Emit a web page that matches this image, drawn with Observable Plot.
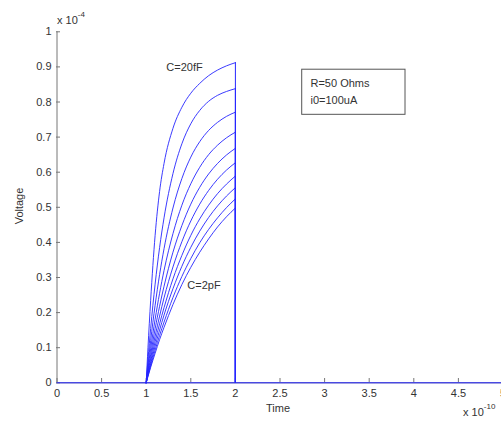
<!DOCTYPE html>
<html>
<head>
<meta charset="utf-8">
<script src="https://cdn.jsdelivr.net/npm/d3@7"></script>
<script src="https://cdn.jsdelivr.net/npm/@observablehq/plot@0.6"></script>
<style>
  html, body { margin: 0; padding: 0; background: #fff; }
  #chart { width: 501px; height: 425px; overflow: hidden; }
  svg { font-family: "Liberation Sans", Arial, sans-serif; }
</style>
</head>
<body>
<div id="chart"></div>
<script>
// Time samples (x 1e-10 s) for the charging phase
const tGrid = [1, 1.02, 1.05, 1.1, 1.15, 1.2, 1.3, 1.4, 1.5, 1.6, 1.7, 1.8, 1.9, 2.0];
// Voltage (x 1e-4 V) of each curve, top (C=20fF) to bottom (C=2pF)
const v1  = [0, 0.100, 0.235, 0.420, 0.545, 0.625, 0.725, 0.785, 0.825, 0.853, 0.875, 0.891, 0.903, 0.912];
const v2  = [0, 0.066, 0.155, 0.281, 0.385, 0.470, 0.596, 0.681, 0.738, 0.776, 0.802, 0.819, 0.830, 0.838];
const v3  = [0, 0.050, 0.120, 0.221, 0.308, 0.382, 0.498, 0.582, 0.643, 0.687, 0.719, 0.742, 0.759, 0.771];
const v4  = [0, 0.040, 0.097, 0.181, 0.255, 0.320, 0.425, 0.506, 0.567, 0.614, 0.650, 0.677, 0.698, 0.714];
const v5  = [0, 0.034, 0.081, 0.154, 0.218, 0.275, 0.372, 0.448, 0.509, 0.557, 0.595, 0.625, 0.649, 0.668];
const v6  = [0, 0.029, 0.070, 0.133, 0.190, 0.242, 0.330, 0.402, 0.461, 0.509, 0.548, 0.580, 0.606, 0.627];
const v7  = [0, 0.025, 0.061, 0.117, 0.168, 0.214, 0.296, 0.363, 0.420, 0.467, 0.506, 0.539, 0.566, 0.589];
const v8  = [0, 0.022, 0.054, 0.104, 0.150, 0.193, 0.268, 0.332, 0.386, 0.432, 0.471, 0.504, 0.532, 0.556];
const v9  = [0, 0.020, 0.048, 0.093, 0.135, 0.173, 0.243, 0.303, 0.354, 0.399, 0.437, 0.470, 0.499, 0.524];
const v10 = [0, 0.018, 0.044, 0.084, 0.123, 0.158, 0.223, 0.280, 0.329, 0.372, 0.410, 0.444, 0.473, 0.498];
const seriesValues = [v1, v2, v3, v4, v5, v6, v7, v8, v9, v10];
const seriesNames = ["C1", "C2", "C3", "C4", "C5", "C6", "C7", "C8", "C9", "C10"];

// Baseline (voltage is zero outside the pulse)
const baseT = [0, 5];
const baseV = [0, 0];

const xTicks = [0, 0.5, 1, 1.5, 2, 2.5, 3, 3.5, 4, 4.5, 5];
const yTicks = [0, 0.1, 0.2, 0.3, 0.4, 0.5, 0.6, 0.7, 0.8, 0.9, 1];

const curveLabels = [
  {t: 1.43, v: 0.897, text: "C=20fF"},
  {t: 1.648, v: 0.277, text: "C=2pF"}
];
const boxRect = [{x1: 2.749, x2: 3.907, y1: 0.7635, y2: 0.892}];
const boxLines = [
  {t: 2.842, v: 0.853, text: "R=50 Ohms"},
  {t: 2.842, v: 0.804, text: "i0=100uA"}
];

const curveRows = [];
seriesValues.forEach((vals, i) => {
  vals.forEach((v, j) => curveRows.push({series: seriesNames[i], t: tGrid[j], v}));
});
const endRows = seriesValues.map((vals, i) => ({series: seriesNames[i], t: tGrid[tGrid.length - 1], v: vals[vals.length - 1]}));
const baseRows = baseT.map((t, i) => ({t, v: baseV[i]}));

const blue = "#2525ff";
const axisGray = "#777";
const textCol = "#333";

const plot = Plot.plot({
  width: 501,
  height: 425,
  marginLeft: 56,
  marginRight: 0,
  marginTop: 31,
  marginBottom: 43,
  style: {fontFamily: "'Liberation Sans', Arial, sans-serif", fontSize: "11px", background: "#fff", overflow: "visible"},
  x: {domain: [0, 5], range: [56.5, 502.5]},
  y: {domain: [0, 1], range: [382.3, 31.3]},
  marks: [
    Plot.ruleX([0], {y1: 0, y2: 1, stroke: axisGray, strokeWidth: 1}),
    Plot.ruleY([0], {stroke: axisGray, strokeWidth: 1}),
    Plot.axisX(xTicks, {tickSize: -4, tickPadding: 11, stroke: axisGray, color: textCol, label: null, tickFormat: d => String(d)}),
    Plot.axisY(yTicks, {tickSize: -4, tickPadding: 9, stroke: axisGray, color: textCol, label: null, tickFormat: d => String(d)}),
    Plot.line(baseRows, {x: "t", y: "v", stroke: blue, strokeWidth: 1}),
    Plot.line(curveRows, {x: "t", y: "v", z: "series", stroke: blue, strokeWidth: 0.9, curve: "monotone-x"}),
    Plot.ruleX(endRows, {x: "t", y1: 0, y2: "v", stroke: blue, strokeWidth: 1}),
    Plot.text(curveLabels, {x: "t", y: "v", text: "text", fill: textCol, fontSize: 11}),
    Plot.rect(boxRect, {x1: "x1", x2: "x2", y1: "y1", y2: "y2", fill: "#fff", stroke: "#555", strokeWidth: 1}),
    Plot.text(boxLines, {x: "t", y: "v", text: "text", textAnchor: "start", fill: textCol, fontSize: 11})
  ]
});

const svg = d3.select(plot);
// axis titles
svg.append("text").attr("x", 278).attr("y", 412).attr("text-anchor", "middle")
  .attr("fill", textCol).attr("font-size", 11).text("Time");
svg.append("text").attr("transform", "translate(23,206) rotate(-90)").attr("text-anchor", "middle")
  .attr("fill", textCol).attr("font-size", 11).text("Voltage");
// exponent labels
const e1 = svg.append("text").attr("x", 57).attr("y", 24).attr("text-anchor", "start").attr("fill", textCol).attr("font-size", 11);
e1.append("tspan").text("x 10");
e1.append("tspan").attr("font-size", 8).attr("dy", -7).text("-4");
const e2 = svg.append("text").attr("x", 463).attr("y", 416).attr("text-anchor", "start").attr("fill", textCol).attr("font-size", 11);
e2.append("tspan").text("x 10");
e2.append("tspan").attr("font-size", 8).attr("dy", -7).text("-10");

document.getElementById("chart").appendChild(plot);
</script>
</body>
</html>
